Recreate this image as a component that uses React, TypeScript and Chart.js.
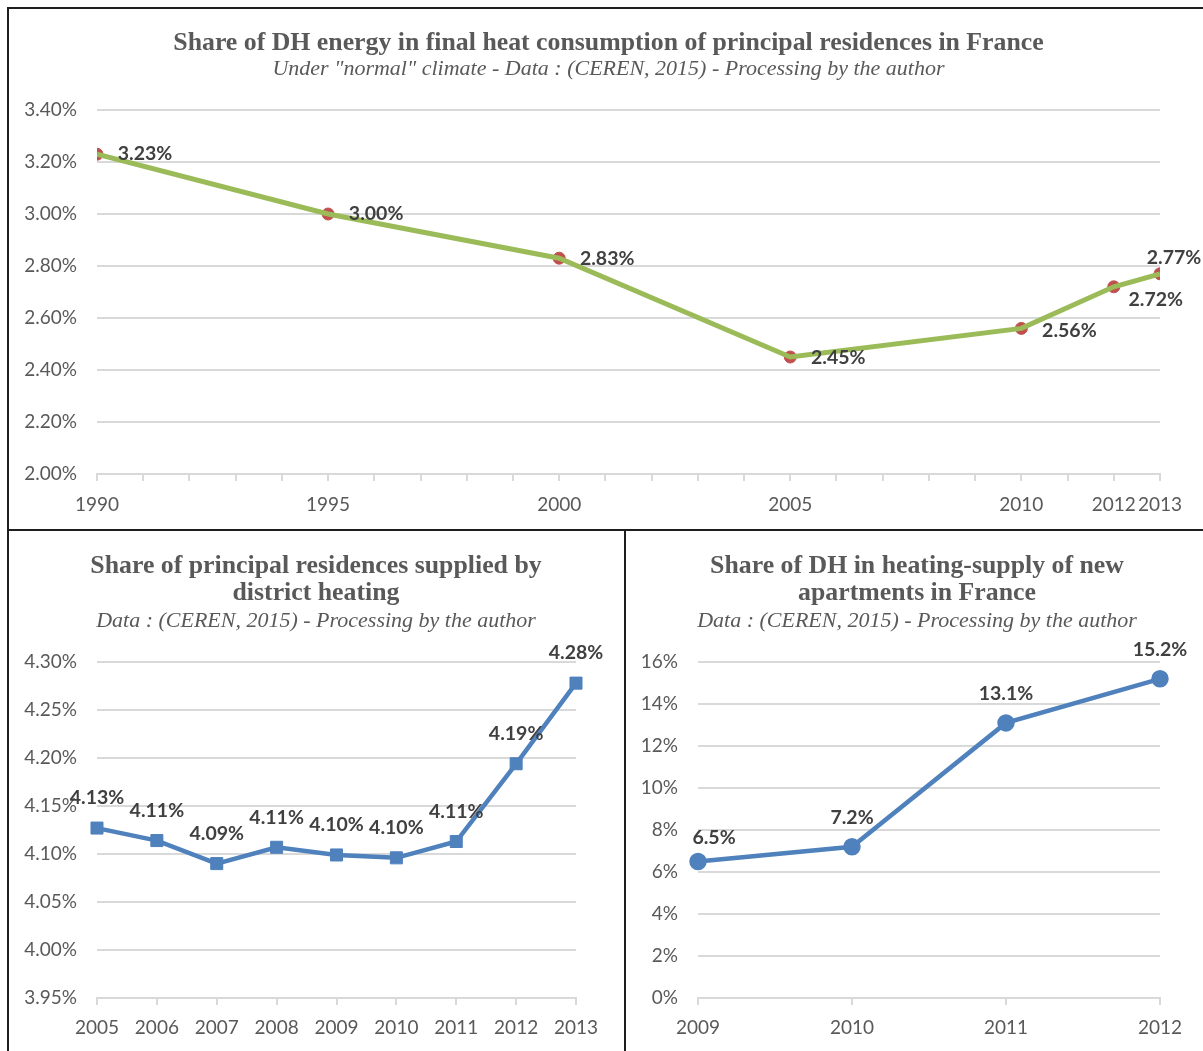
import React, { useEffect, useRef } from "react";
import { Chart, registerables } from "chart.js";

Chart.register(...registerables);

// ---------- data ----------
const topYears = [1990, 1995, 2000, 2005, 2010, 2012, 2013];
const topShare = [3.23, 3.0, 2.83, 2.45, 2.56, 2.72, 2.77];
const topLabeledYears = [1990, 1995, 2000, 2005, 2010, 2012, 2013];

const resYears = ["2005", "2006", "2007", "2008", "2009", "2010", "2011", "2012", "2013"];
const resShare = [4.127, 4.114, 4.09, 4.107, 4.099, 4.096, 4.113, 4.194, 4.278];

const newYears = ["2009", "2010", "2011", "2012"];
const newShare = [6.5, 7.2, 13.1, 15.2];

// ---------- styles ----------
const SERIF = "'Liberation Serif', 'DejaVu Serif', serif";
const SANS = "Lato, 'Open Sans', sans-serif";
const TEXT = "#595959";
const LABEL = "#404040";
const GRID = "#d9d9d9";

function makeLabelPlugin(datasetIndex: number, offsets: number[][], fmt: (v: number) => string) {
  return {
    id: "valueLabels",
    afterDatasetsDraw(chart: any) {
      const meta = chart.getDatasetMeta(datasetIndex);
      const ds = chart.data.datasets[datasetIndex].data;
      const ctx = chart.ctx;
      ctx.save();
      ctx.font = `bold 19.5px ${SANS}`;
      ctx.fillStyle = LABEL;
      ctx.textAlign = "center";
      ctx.textBaseline = "middle";
      meta.data.forEach((el: any, i: number) => {
        const raw = ds[i];
        const v = typeof raw === "number" ? raw : raw.y;
        const off = offsets[i] || [0, 0];
        ctx.fillText(fmt(v), el.x + off[0], el.y + off[1]);
      });
      ctx.restore();
    },
  };
}

// centres the title and subtitle blocks on a given x of the canvas
function makeTitleCenterPlugin(cx: number) {
  return {
    id: "titleCenter",
    afterLayout(chart: any) {
      chart.boxes.forEach((b: any) => {
        if (b && b.options && b.options.text !== undefined && b.fullSize) {
          const half = Math.max(cx, chart.width - cx);
          b.left = cx - half;
          b.right = cx + half;
        }
      });
    },
  };
}

function titleOpts(text: string | string[], padTop: number) {
  return {
    display: true,
    text,
    color: TEXT,
    font: { family: SERIF, size: 25.8, weight: "bold" as const, lineHeight: 27 / 25.8 },
    padding: { top: padTop, bottom: 0 },
  };
}
function subtitleOpts(text: string, padTop: number, padBottom: number) {
  return {
    display: true,
    text,
    color: TEXT,
    font: { family: SERIF, size: 22, style: "italic" as const, lineHeight: 1.2 },
    padding: { top: padTop, bottom: padBottom },
  };
}
const tickFont = { family: SANS, size: 19 };

function useChart(build: (c: HTMLCanvasElement) => Chart) {
  const ref = useRef<HTMLCanvasElement | null>(null);
  useEffect(() => {
    if (!ref.current) return;
    const ch = build(ref.current);
    return () => ch.destroy();
  }, []);
  return ref;
}

function TopChart({ w, h }: { w: number; h: number }) {
  const ref = useChart((c) => {
    const pts = topYears.map((x, i) => ({ x, y: topShare[i] }));
    return new Chart(c, {
      type: "line",
      data: {
        datasets: [
          { data: pts, borderColor: "#9bbb59", borderWidth: 5, pointRadius: 0, tension: 0, order: 0 },
          {
            data: pts,
            showLine: false,
            pointRadius: 6,
            pointBackgroundColor: "#c0504d",
            pointBorderColor: "#c0504d",
            order: 1,
          },
        ],
      },
      options: {
        animation: false,
        responsive: false,
        maintainAspectRatio: false,
        layout: { padding: { left: 0, right: w - 1152, top: 0, bottom: 0 } },
        plugins: {
          legend: { display: false },
          tooltip: { enabled: false },
          title: titleOpts("Share of DH energy in final heat consumption of principal residences in France", 21.5),
          subtitle: subtitleOpts('Under "normal" climate - Data : (CEREN, 2015) - Processing by the author', 0, 27.1),
        },
        scales: {
          x: {
            type: "linear",
            min: 1990,
            max: 2013,
            ticks: {
              stepSize: 1,
              autoSkip: false,
              maxRotation: 0,
              padding: 12,
              color: TEXT,
              font: tickFont,
              callback: (v: any) => (topLabeledYears.includes(Number(v)) ? String(v) : ""),
            },
            grid: { drawOnChartArea: false, drawTicks: true, tickLength: 7, color: GRID, lineWidth: 2 },
            border: { display: true, color: GRID, width: 2 },
            afterFit: (s: any) => {
              s.height = h - 466;
            },
          },
          y: {
            min: 2,
            max: 3.4,
            ticks: {
              stepSize: 0.2,
              padding: 20,
              color: TEXT,
              font: tickFont,
              callback: (v: any) => Number(v).toFixed(2) + "%",
            },
            grid: { color: GRID, lineWidth: 2, drawTicks: false },
            border: { display: false },
            afterFit: (s: any) => {
              s.width = 89;
            },
          },
        },
      },
      plugins: [
        makeTitleCenterPlugin(600.5),
        makeLabelPlugin(
          1,
          [
            [48, 0],
            [48, 0],
            [48, 1],
            [48, 1],
            [48, 2],
            [42, 13],
            [14, -16],
          ],
          (v) => v.toFixed(2) + "%"
        ),
      ],
    } as any);
  });
  return <canvas ref={ref} width={w} height={h} style={{ width: w, height: h, display: "block" }} />;
}

function ResChart({ w, h }: { w: number; h: number }) {
  const ref = useChart((c) => {
    return new Chart(c, {
      type: "line",
      data: {
        labels: resYears,
        datasets: [
          {
            data: resShare,
            borderColor: "#4f81bd",
            borderWidth: 4.5,
            pointStyle: "rect",
            pointRadius: 8.5,
            pointBorderWidth: 1,
            pointBackgroundColor: "#4f81bd",
            pointBorderColor: "#4f81bd",
            tension: 0,
          },
        ],
      },
      options: {
        animation: false,
        responsive: false,
        maintainAspectRatio: false,
        layout: { padding: { left: 0, right: w - 568, top: 0, bottom: 0 } },
        plugins: {
          legend: { display: false },
          tooltip: { enabled: false },
          title: titleOpts(["Share of principal residences supplied by", "district heating"], 22.5),
          subtitle: subtitleOpts("Data : (CEREN, 2015) - Processing by the author", 1.3, 27.8),
        },
        scales: {
          x: {
            type: "category",
            offset: false,
            ticks: { autoSkip: false, maxRotation: 0, padding: 11, color: TEXT, font: tickFont },
            grid: { drawOnChartArea: false, drawTicks: true, tickLength: 7, color: GRID, lineWidth: 2, offset: false },
            border: { display: true, color: GRID, width: 2 },
            afterFit: (s: any) => {
              s.height = h - 468;
            },
          },
          y: {
            min: 3.95,
            max: 4.3,
            ticks: {
              stepSize: 0.05,
              padding: 20,
              color: TEXT,
              font: tickFont,
              callback: (v: any) => Number(v).toFixed(2) + "%",
            },
            grid: { color: GRID, lineWidth: 2, drawTicks: false },
            border: { display: false },
            afterFit: (s: any) => {
              s.width = 89;
            },
          },
        },
      },
      plugins: [makeTitleCenterPlugin(308), makeLabelPlugin(0, resShare.map(() => [0, -30]), (v) => v.toFixed(2) + "%")],
    } as any);
  });
  return <canvas ref={ref} width={w} height={h} style={{ width: w, height: h, display: "block" }} />;
}

function NewChart({ w, h }: { w: number; h: number }) {
  const ref = useChart((c) => {
    return new Chart(c, {
      type: "line",
      data: {
        labels: newYears,
        datasets: [
          {
            data: newShare,
            borderColor: "#4f81bd",
            borderWidth: 4.5,
            pointStyle: "circle",
            pointRadius: 6.5,
            pointBackgroundColor: "#4f81bd",
            pointBorderColor: "#4f81bd",
            tension: 0,
          },
        ],
      },
      options: {
        animation: false,
        responsive: false,
        maintainAspectRatio: false,
        layout: { padding: { left: 0, right: w - 535, top: 0, bottom: 0 } },
        plugins: {
          legend: { display: false },
          tooltip: { enabled: false },
          title: titleOpts(["Share of DH in heating-supply of new", "apartments in France"], 22.5),
          subtitle: subtitleOpts("Data : (CEREN, 2015) - Processing by the author", 1.3, 27.8),
        },
        scales: {
          x: {
            type: "category",
            offset: false,
            ticks: { autoSkip: false, maxRotation: 0, padding: 11, color: TEXT, font: tickFont },
            grid: { drawOnChartArea: false, drawTicks: true, tickLength: 7, color: GRID, lineWidth: 2, offset: false },
            border: { display: true, color: GRID, width: 2 },
            afterFit: (s: any) => {
              s.height = h - 468;
            },
          },
          y: {
            min: 0,
            max: 16,
            ticks: {
              stepSize: 2,
              padding: 20,
              color: TEXT,
              font: tickFont,
              callback: (v: any) => Number(v).toFixed(0) + "%",
            },
            grid: { color: GRID, lineWidth: 2, drawTicks: false },
            border: { display: false },
            afterFit: (s: any) => {
              s.width = 73;
            },
          },
        },
      },
      plugins: [
        makeTitleCenterPlugin(292),
        makeLabelPlugin(
          0,
          [
            [16, -24],
            [0, -29],
            [0, -29],
            [0, -29],
          ],
          (v) => v.toFixed(1) + "%"
        ),
      ],
    } as any);
  });
  return <canvas ref={ref} width={w} height={h} style={{ width: w, height: h, display: "block" }} />;
}

const LINE = "#1e1e1e";

export default function App() {
  return (
    <div style={{ position: "absolute", left: 0, top: 0, width: 1203, height: 1051, overflow: "hidden", background: "#fff" }}>
      <div style={{ position: "absolute", left: 8, top: 8 }}>
        <TopChart w={1195} h={522} />
      </div>
      <div style={{ position: "absolute", left: 8, top: 530 }}>
        <ResChart w={617} h={521} />
      </div>
      <div style={{ position: "absolute", left: 625, top: 530 }}>
        <NewChart w={578} h={521} />
      </div>
      {/* frame lines */}
      <div style={{ position: "absolute", left: 7, top: 7, width: 1196, height: 2, background: LINE }} />
      <div style={{ position: "absolute", left: 7, top: 7, width: 2, height: 1044, background: LINE }} />
      <div style={{ position: "absolute", left: 7, top: 529, width: 1196, height: 2, background: LINE }} />
      <div style={{ position: "absolute", left: 624, top: 529, width: 2, height: 522, background: LINE }} />
    </div>
  );
}
